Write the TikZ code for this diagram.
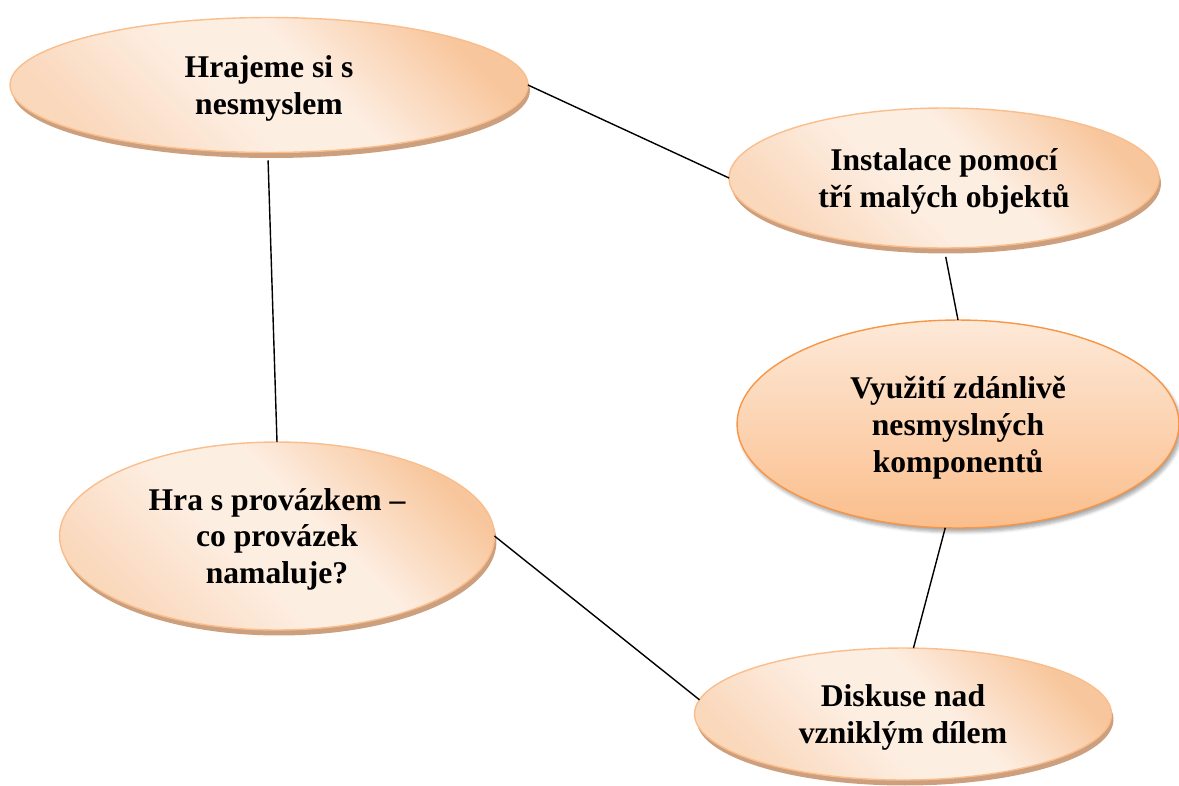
\documentclass[tikz,border=0pt]{standalone}
\usepackage{fontspec}
\setmainfont{Liberation Serif}
\usetikzlibrary{shapes.geometric,shadows,shadows.blur}
\definecolor{peachL}{RGB}{253,238,226}
\definecolor{peachM}{RGB}{250,216,188}
\definecolor{peachD}{RGB}{248,198,156}
\definecolor{peachB}{RGB}{250,190,140}
\definecolor{shadowC}{RGB}{204,160,126}
\definecolor{vTop}{RGB}{253,233,216}
\definecolor{vBot}{RGB}{251,190,140}
\definecolor{vBorder}{RGB}{247,150,70}
\pgfdeclareverticalshading{peachsh}{100bp}{color(0bp)=(peachM); color(25bp)=(peachM); color(44bp)=(peachL); color(56bp)=(peachL); color(75bp)=(peachD); color(100bp)=(peachD)}
\tikzset{
  txt/.style={align=center, text=black, text depth=-1.5pt, font=\bfseries\fontsize{18}{21}\selectfont},
  bubble/.style={ellipse, draw=peachB, line width=0.8pt, inner sep=0pt, outer sep=0pt, txt,
     shading=peachsh, shading angle=-45,
     general shadow={fill=shadowC, shadow xshift=0.04cm, shadow yshift=-0.11cm}},
  hubble/.style={ellipse, draw=vBorder, line width=0.8pt, inner sep=0pt, outer sep=0pt, txt,
     top color=vTop, bottom color=vBot,
     blur shadow={shadow xshift=0.05cm, shadow yshift=-0.08cm, shadow blur steps=6, shadow opacity=35}},
  link/.style={draw=black, line width=0.8pt}
}
\begin{document}
\begin{tikzpicture}[x=0.02cm, y=-0.02cm]
\useasboundingbox (0,0) rectangle (1179,785);
\node[bubble, minimum width=10.36cm, minimum height=2.70cm] (e1) at (269,85) {Hrajeme si s\\nesmyslem};
\node[bubble, minimum width=8.60cm, minimum height=2.80cm] (e2) at (944,178) {Instalace pomocí\\tří malých objektů};
\node[hubble, minimum width=8.84cm, minimum height=4.16cm] (e3) at (958,424) {Využití zdánlivě\\nesmyslných\\komponentů};
\node[bubble, minimum width=8.70cm, minimum height=3.76cm] (e4) at (277,536) {Hra s provázkem –\\co provázek\\namaluje?};
\node[bubble, minimum width=8.34cm, minimum height=2.64cm] (e5) at (903,714) {Diskuse nad\\vzniklým dílem};
\draw[link] (e1.east) -- (e2.west);
\draw[link, shorten <=0.16cm] (e1.-91) -- (e4.north);
\draw[link, shorten <=0.18cm] (e2.south) -- (e3.north);
\draw[link] (e3.-97) -- (e5.81);
\draw[link] (e4.east) -- (e5.176);
\end{tikzpicture}
\end{document}
